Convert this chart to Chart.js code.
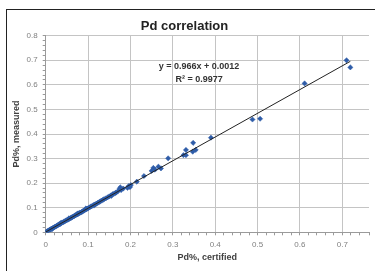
<!DOCTYPE html>
<html lang="en">
<head>
  <meta charset="UTF-8">
  <title>Pd correlation</title>
  <style>
    body {
      margin: 0;
      padding: 0;
      background: #fff;
      overflow: hidden;
    }
    .box {
      position: relative;
      width: 375px;
      height: 271px;
    }
    .frame {
      position: absolute;
      left: 6px;
      top: 9px;
      right: -5px;
      bottom: -10px;
      border-left: 1.5px solid #222;
      border-top: 1.5px solid #222;
      pointer-events: none;
    }
  </style>
</head>
<body>
  <div class="box">
    <canvas id="grafico"></canvas>
    <div class="frame"></div>
  </div>

  <script src="https://cdn.jsdelivr.net/npm/chart.js"></script>
  <script>
    // Pd%, certified (x) vs Pd%, measured (y)
    const certified = [
      0, 0.001, 0.002, 0.004, 0.006, 0.008, 0.010, 0.012, 0.014, 0.015, 0.016, 0.018,
      0.020, 0.022, 0.024, 0.026, 0.028, 0.030, 0.032, 0.034, 0.035, 0.036, 0.038,
      0.040, 0.042, 0.044, 0.046, 0.048, 0.050, 0.052, 0.054, 0.055, 0.056, 0.058,
      0.060, 0.062, 0.064, 0.066, 0.068, 0.070, 0.072, 0.074, 0.075, 0.076, 0.078,
      0.080, 0.082, 0.084, 0.086, 0.088, 0.090, 0.092, 0.094, 0.095, 0.096, 0.098,
      0.100, 0.103, 0.106, 0.108, 0.111, 0.114, 0.115, 0.117, 0.120, 0.123, 0.126,
      0.129, 0.132, 0.135, 0.138, 0.142, 0.146, 0.150, 0.154, 0.155, 0.158, 0.162,
      0.165, 0.166, 0.170, 0.174, 0.176, 0.178, 0.183, 0.193, 0.196, 0.199, 0.201,
      0.215, 0.232, 0.250, 0.254, 0.258, 0.266, 0.272, 0.289, 0.325, 0.331, 0.331,
      0.347, 0.348, 0.354, 0.390, 0.488, 0.506, 0.611, 0.710, 0.719
    ];
    const measured = [
      0, 0.001, 0.003, 0.005, 0.006, 0.009, 0.011, 0.012, 0.015, 0.013, 0.016, 0.019,
      0.020, 0.023, 0.024, 0.026, 0.028, 0.031, 0.032, 0.034, 0.037, 0.036, 0.039,
      0.040, 0.042, 0.044, 0.046, 0.048, 0.050, 0.051, 0.054, 0.057, 0.055, 0.058,
      0.059, 0.061, 0.063, 0.065, 0.067, 0.069, 0.071, 0.073, 0.076, 0.074, 0.077,
      0.079, 0.080, 0.082, 0.084, 0.086, 0.088, 0.090, 0.093, 0.097, 0.094, 0.096,
      0.098, 0.101, 0.104, 0.106, 0.108, 0.112, 0.110, 0.114, 0.117, 0.120, 0.123,
      0.126, 0.129, 0.132, 0.135, 0.138, 0.142, 0.146, 0.150, 0.148, 0.155, 0.158,
      0.160, 0.162, 0.166, 0.176, 0.183, 0.172, 0.178, 0.181, 0.188, 0.184, 0.192,
      0.206, 0.229, 0.250, 0.262, 0.255, 0.267, 0.260, 0.301, 0.314, 0.335, 0.314,
      0.328, 0.364, 0.335, 0.385, 0.459, 0.462, 0.606, 0.700, 0.671
    ];

    // linear trendline reported on the chart
    const trendSlope = 0.966;
    const trendIntercept = 0.0012;
    const trendLabel = ['y = 0.966x + 0.0012', 'R\u00b2 = 0.9977'];
    const trendLabelAt = [0.362, 0.673];

    const xMax = 0.763;
    const yMax = 0.8;

    const fonte = '"Liberation Sans", Arial, sans-serif';
    const ehMaior = v => Math.abs(v * 10 - Math.round(v * 10)) < 1e-6;
    const rotulo = v => ehMaior(v) ? String(Math.round(v * 10) / 10) : '';

    const pontos = certified.map((x, i) => ({ x: x, y: measured[i] }));
    const xMin = Math.min(...certified);
    const xTop = Math.max(...certified);
    const linha = [
      { x: xMin, y: trendSlope * xMin + trendIntercept },
      { x: xTop, y: trendSlope * xTop + trendIntercept }
    ];

    const rotuloTendencia = {
      id: 'rotuloTendencia',
      afterDatasetsDraw(chart) {
        const c = chart.ctx;
        const px = chart.scales.x.getPixelForValue(trendLabelAt[0]);
        const py = chart.scales.y.getPixelForValue(trendLabelAt[1]);
        c.save();
        c.font = 'bold 9px ' + fonte;
        c.fillStyle = '#333';
        c.textAlign = 'center';
        c.textBaseline = 'middle';
        trendLabel.forEach((t, i) => c.fillText(t, px, py + i * 12.8));
        c.restore();
      }
    };

    const eixo = (max, titulo, extra) => Object.assign({
      type: 'linear',
      min: 0,
      max: max,
      border: { color: '#9a9a9a', width: 1 },
      grid: {
        color: ctx => ehMaior(ctx.tick.value) ? '#c4c4c4' : 'rgba(0,0,0,0)',
        tickColor: '#9a9a9a',
        tickLength: 3,
        lineWidth: 1
      },
      ticks: {
        stepSize: 0.02,
        autoSkip: false,
        maxRotation: 0,
        color: '#808080',
        font: { family: fonte, size: 8 },
        callback: rotulo
      },
      title: {
        display: true,
        text: titulo,
        color: '#404040',
        font: { family: fonte, size: 9, weight: 'bold' }
      }
    }, extra);

    const escalaX = eixo(xMax, 'Pd%, certified', {
      afterFit: s => { s.height = 38.7; }
    });
    escalaX.ticks.padding = 5;
    escalaX.title.padding = { top: 0, bottom: 7.6 };

    const escalaY = eixo(yMax, 'Pd%, measured', {
      afterFit: s => { s.width = 45.7; }
    });
    escalaY.ticks.padding = 5;
    escalaY.title.padding = { top: 11, bottom: 0 };

    new Chart(document.getElementById('grafico'), {
      type: 'scatter',
      data: {
        datasets: [
          {
            label: 'Pd',
            data: pontos,
            pointStyle: 'rectRot',
            pointRadius: 2.6,
            pointBackgroundColor: '#2e5ca8',
            pointBorderColor: '#2e5ca8',
            pointBorderWidth: 0.5,
            order: 2
          },
          {
            type: 'line',
            label: 'Linear',
            data: linha,
            borderColor: '#222',
            borderWidth: 1,
            pointRadius: 0,
            fill: false,
            order: 1
          }
        ]
      },
      options: {
        responsive: true,
        maintainAspectRatio: false,
        animation: false,
        layout: { padding: { top: 0, right: 6, bottom: 0, left: 0 } },
        plugins: {
          legend: { display: false },
          tooltip: { enabled: false },
          title: {
            display: true,
            text: 'Pd correlation',
            color: '#222',
            font: { family: fonte, size: 13, weight: 'bold' },
            padding: { top: 18.5, bottom: 1.6 }
          }
        },
        scales: { x: escalaX, y: escalaY }
      },
      plugins: [rotuloTendencia]
    });
  </script>
</body>
</html>
